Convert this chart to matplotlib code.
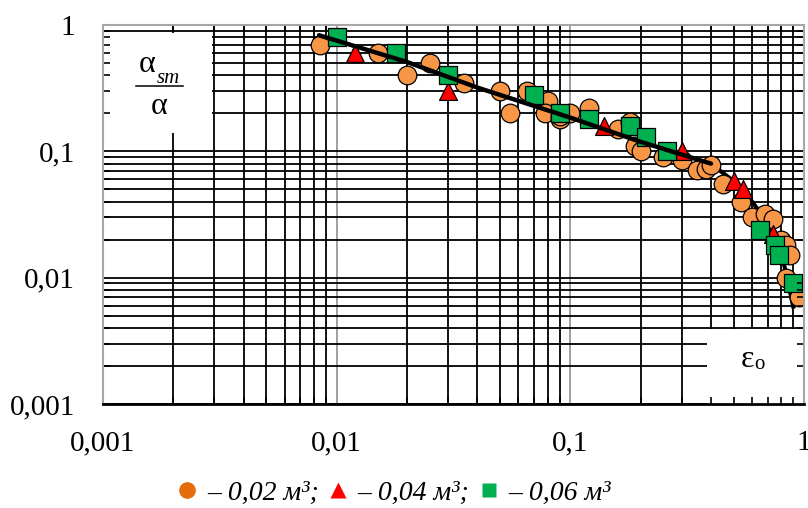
import matplotlib
matplotlib.use('Agg')
import matplotlib.pyplot as plt
from matplotlib.lines import Line2D
from matplotlib.patches import Rectangle
from matplotlib.ticker import FixedLocator, FuncFormatter

plt.rcParams['font.family'] = ['Liberation Serif', 'DejaVu Serif']

# точки, 0,02 м3
orange_x = [0.0085, 0.015, 0.020, 0.025, 0.035, 0.050, 0.055, 0.065, 0.080, 0.078,
            0.090, 0.090, 0.100, 0.120, 0.160, 0.180, 0.190, 0.200, 0.250, 0.300,
            0.350, 0.380, 0.400, 0.450, 0.540, 0.600, 0.680, 0.740, 0.800, 0.840,
            0.870, 0.840, 0.950]
orange_y = [0.70, 0.60, 0.40, 0.50, 0.35, 0.30, 0.20, 0.30, 0.25, 0.20,
            0.18, 0.19, 0.20, 0.22, 0.15, 0.17, 0.11, 0.10, 0.09, 0.085,
            0.071, 0.073, 0.078, 0.055, 0.040, 0.030, 0.032, 0.029, 0.020, 0.018,
            0.015, 0.010, 0.007]
# 0,04 м3
red_x = [0.012, 0.030, 0.140, 0.300, 0.500, 0.550, 0.740]
red_y = [0.60, 0.30, 0.16, 0.10, 0.058, 0.050, 0.022]
# 0,06 м3
green_x = [0.010, 0.018, 0.030, 0.070, 0.090, 0.120, 0.180, 0.210, 0.260,
           0.650, 0.750, 0.780, 0.900]
green_y = [0.80, 0.60, 0.40, 0.28, 0.20, 0.18, 0.16, 0.13, 0.10,
           0.024, 0.018, 0.015, 0.009]
# линия
trend_x = [0.0084, 0.02, 0.04, 0.1, 0.2, 0.4, 0.5, 0.6, 0.7, 0.8, 0.9]
trend_y = [0.83, 0.51, 0.32, 0.185, 0.119, 0.080, 0.058, 0.040, 0.027, 0.016, 0.0059]

tick_vals = [0.001, 0.01, 0.1, 1]
tick_labels = ['0,001', '0,01', '0,1', '1']

fig = plt.figure(figsize=(8.08, 5.08), dpi=100)
pos = [0.1275, 0.2047, 0.8675, 0.746]
ax = fig.add_axes(pos)
ax.set_xscale('log')
ax.set_yscale('log')
ax.set_xlim(0.001, 1)
ax.set_ylim(0.001, 1)
ax.set_axisbelow(True)

ax.xaxis.grid(True, which='major', color='#a0a0a0', lw=1.4)
ax.xaxis.grid(True, which='minor', color='black', lw=1.3)
ax.yaxis.grid(True, which='both', color='black', lw=1.3)
ax.tick_params(which='both', length=0, labelsize=21)
ax.tick_params(axis='y', pad=20)
ax.tick_params(axis='x', pad=19)
ax.xaxis.set_major_locator(FixedLocator(tick_vals))
ax.yaxis.set_major_locator(FixedLocator(tick_vals))
fmt = FuncFormatter(lambda v, p: tick_labels[tick_vals.index(min(tick_vals, key=lambda t: abs(t - v)))])
ax.xaxis.set_major_formatter(fmt)
ax.yaxis.set_major_formatter(fmt)
for s in ax.spines.values():
    s.set_visible(False)

# белые поля под подписи осей
ax.add_patch(Rectangle((0.001, 0.14), 0.00292 - 0.001, 0.865 - 0.14,
                       facecolor='white', edgecolor='none', zorder=1))
ax.add_patch(Rectangle((0.384, 0.001), 1 - 0.384, 0.0039 - 0.001,
                       facecolor='white', edgecolor='none', zorder=1))

ax.plot(trend_x[5:], trend_y[5:], color='black', lw=3, zorder=2)
ax.scatter(orange_x, orange_y, s=180, marker='o', facecolor='#f79646',
           edgecolor='black', linewidth=0.9, zorder=3)
ax.scatter(red_x, red_y, s=165, marker='^', facecolor='#ff0000',
           edgecolor='black', linewidth=0.9, zorder=3)
ax.scatter(green_x, green_y, s=165, marker='s', facecolor='#00b050',
           edgecolor='black', linewidth=0.9, zorder=3)
ax.plot(trend_x[:6], trend_y[:6], color='black', lw=3.2, zorder=4,
        solid_capstyle='round')

# подпись оси y: дробь
ax.text(0.0628, 0.897, 'α', transform=ax.transAxes, ha='center', va='center',
        fontsize=23, zorder=5)
ax.text(0.077, 0.858, 'sm', transform=ax.transAxes, ha='left', va='center',
        fontsize=15, style='italic', zorder=5)
ax.plot([0.047, 0.114], [0.839, 0.839], transform=ax.transAxes, color='black',
        lw=1.1, zorder=5)
ax.text(0.080, 0.784, 'α', transform=ax.transAxes, ha='center', va='center',
        fontsize=23, zorder=5)
# подпись оси x
ax.text(0.920, 0.118, 'ε', transform=ax.transAxes, ha='center', va='center',
        fontsize=23, zorder=5)
ax.text(0.937, 0.104, 'o', transform=ax.transAxes, ha='center', va='center',
        fontsize=15, zorder=5)

# оси с засечками поверх
ax2 = fig.add_axes(pos, sharex=ax, sharey=ax)
ax2.patch.set_visible(False)
ax2.tick_params(which='both', direction='in', top=True, right=True,
                labelleft=False, labelbottom=False, color='black')
ax2.tick_params(which='minor', length=5, width=1.2)
ax2.tick_params(which='major', length=0)
for k in ['left', 'top', 'right']:
    ax2.spines[k].set_color('#a6a6a6')
    ax2.spines[k].set_linewidth(1.5)
ax2.spines['bottom'].set_color('black')
ax2.spines['bottom'].set_linewidth(2)

handles = [
    Line2D([], [], ls='none', marker='o', ms=12, mfc='#e46c0a', mec='none'),
    Line2D([], [], ls='none', marker='^', ms=12, mfc='#ff0000', mec='none'),
    Line2D([], [], ls='none', marker='s', ms=10, mfc='#00b050', mec='none'),
]
labels = ['– 0,02 м³;', '– 0,04 м³;', '– 0,06 м³']
fig.legend(handles, labels, loc='lower center', bbox_to_anchor=(0.487, -0.045),
           ncol=3, frameon=False, handlelength=0.8, handletextpad=0.3,
           columnspacing=0.3, prop={'family': 'Liberation Serif', 'style': 'italic', 'size': 20})

fig.savefig('out.png', dpi=100)
